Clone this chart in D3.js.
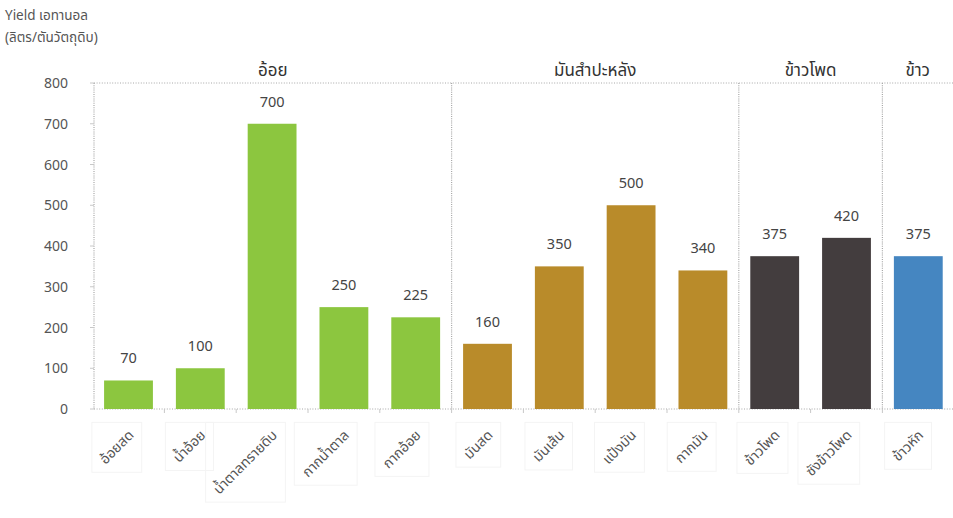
<!DOCTYPE html>
<html>
<head>
<meta charset="utf-8">
<script src="https://cdn.jsdelivr.net/npm/d3@7"></script>
<style>
  html, body { margin: 0; padding: 0; background: #fff; }
  svg { display: block; font-family: "Noto Sans Thai", "Noto Sans", "DejaVu Sans", sans-serif; }
</style>
</head>
<body>
<svg id="chart" width="953" height="518"></svg>
<script>
// Feedstock categories and ethanol yield (litres per tonne of raw material)
const categories = ["อ้อยสด", "น้ำอ้อย", "น้ำตาลทรายดิบ", "กากน้ำตาล", "กากอ้อย",
                    "มันสด", "มันเส้น", "แป้งมัน", "กากมัน",
                    "ข้าวโพด", "ซังข้าวโพด",
                    "ข้าวหัก"];
const values = [70, 100, 700, 250, 225, 160, 350, 500, 340, 375, 420, 375];

// Crop groups, how many categories each one spans, and its bar colour
const groups = ["อ้อย", "มันสำปะหลัง", "ข้าวโพด", "ข้าว"];
const groupSizes = [5, 4, 2, 1];
const groupColors = ["#8cc63f", "#b98b2a", "#433d3e", "#4586c1"];

const yTicks = [0, 100, 200, 300, 400, 500, 600, 700, 800];
const yTitle = ["Yield เอทานอล", "(ลิตร/ตันวัตถุดิบ)"];

const svg = d3.select("#chart");
const W = 953;

const x = d3.scaleBand()
  .domain(categories)
  .range([92.6, 954.2])
  .paddingInner(0.32)
  .paddingOuter(0.16);

const y = d3.scaleLinear().domain([0, 800]).range([409, 83]);

// group index of every category
const groupOf = [];
groupSizes.forEach((n, g) => { for (let i = 0; i < n; i++) groupOf.push(g); });

const axisLeft = 94;

// group boundaries (x positions)
const gap = x.step() * x.paddingInner() / 2;
const bounds = [axisLeft];
let idx = 0;
groupSizes.forEach((n, g) => {
  idx += n;
  if (g < groupSizes.length - 1) bounds.push(x(categories[idx]) - gap);
});
bounds.push(W);

// faint label boxes under the axis (drawn first)
const boxLayer = svg.append("g");

// top and bottom dotted rules
[800, 0].forEach(v => {
  svg.append("line")
    .attr("x1", axisLeft).attr("x2", W)
    .attr("y1", y(v)).attr("y2", y(v))
    .attr("stroke", "#a8a8a8").attr("stroke-width", 1)
    .attr("stroke-dasharray", "1,1.6");
});

// vertical dotted rules: left axis and group separators
bounds.slice(0, -1).forEach(bx => {
  svg.append("line")
    .attr("x1", bx).attr("x2", bx)
    .attr("y1", y(800)).attr("y2", y(0))
    .attr("stroke", "#a8a8a8").attr("stroke-width", 1.2)
    .attr("stroke-dasharray", "1,1.2");
});

// small ticks on the baseline between categories
categories.forEach((c, i) => {
  if (i === 0) return;
  const tx = x(c) - gap;
  svg.append("line")
    .attr("x1", tx).attr("x2", tx)
    .attr("y1", y(0)).attr("y2", y(0) + 4)
    .attr("stroke", "#c8c8c8").attr("stroke-width", 1);
});

// y axis tick labels
svg.append("g").selectAll("text")
  .data(yTicks).join("text")
  .attr("x", 68).attr("y", d => y(d))
  .attr("dy", "0.36em")
  .attr("text-anchor", "end")
  .attr("font-size", 14)
  .attr("fill", "#555")
  .text(d => d);

// small ticks on the y axis
svg.append("g").selectAll("line")
  .data(yTicks).join("line")
  .attr("x1", axisLeft - 4).attr("x2", axisLeft)
  .attr("y1", d => y(d)).attr("y2", d => y(d))
  .attr("stroke", "#c8c8c8");

// y axis title
svg.append("g").selectAll("text")
  .data(yTitle).join("text")
  .attr("x", 5).attr("y", (d, i) => 20 + i * 22)
  .attr("font-size", 13.5)
  .attr("fill", "#555")
  .text(d => d);

// bars
svg.append("g").selectAll("rect")
  .data(categories).join("rect")
  .attr("x", d => x(d))
  .attr("width", x.bandwidth())
  .attr("y", (d, i) => y(values[i]))
  .attr("height", (d, i) => y(0) - y(values[i]))
  .attr("fill", (d, i) => groupColors[groupOf[i]]);

// value labels
svg.append("g").selectAll("text")
  .data(categories).join("text")
  .attr("x", d => x(d) + x.bandwidth() / 2)
  .attr("y", (d, i) => y(values[i]) - 17)
  .attr("text-anchor", "middle")
  .attr("font-size", 14.5)
  .attr("fill", "#444")
  .text((d, i) => values[i]);

// group titles
svg.append("g").selectAll("text")
  .data(groups).join("text")
  .attr("x", (d, g) => (bounds[g] + bounds[g + 1]) / 2)
  .attr("y", 76)
  .attr("text-anchor", "middle")
  .attr("font-size", 17)
  .attr("fill", "#333")
  .text(d => d);

// category labels rotated 45°, right end under each bar
const c45 = Math.SQRT1_2;
const anchorX = d => x(d) + x.bandwidth() / 2 + 6;
const anchorY = y(0) + 27;

const labels = svg.append("g").selectAll("text")
  .data(categories).join("text")
  .attr("text-anchor", "end")
  .attr("font-size", 14)
  .attr("fill", "#555")
  .attr("transform", d => `translate(${anchorX(d)},${anchorY}) rotate(-45)`)
  .text(d => d);

// faint frame around each rotated label
labels.each(function (d) {
  const bb = this.getBBox();
  const ox = anchorX(d), oy = anchorY;
  const pts = [[bb.x, bb.y], [bb.x + bb.width, bb.y], [bb.x, bb.y + bb.height], [bb.x + bb.width, bb.y + bb.height]]
    .map(([px, py]) => [ox + px * c45 + py * c45, oy - px * c45 + py * c45]);
  const xs = pts.map(p => p[0]), ys = pts.map(p => p[1]);
  const x0 = d3.min(xs) - 3, x1 = d3.max(xs) + 3, y0 = d3.min(ys) - 3, y1 = d3.max(ys) + 3;
  boxLayer.append("rect")
    .attr("x", x0).attr("y", y0).attr("width", x1 - x0).attr("height", y1 - y0)
    .attr("fill", "none").attr("stroke", "#f4f4f4");
});
</script>
</body>
</html>
